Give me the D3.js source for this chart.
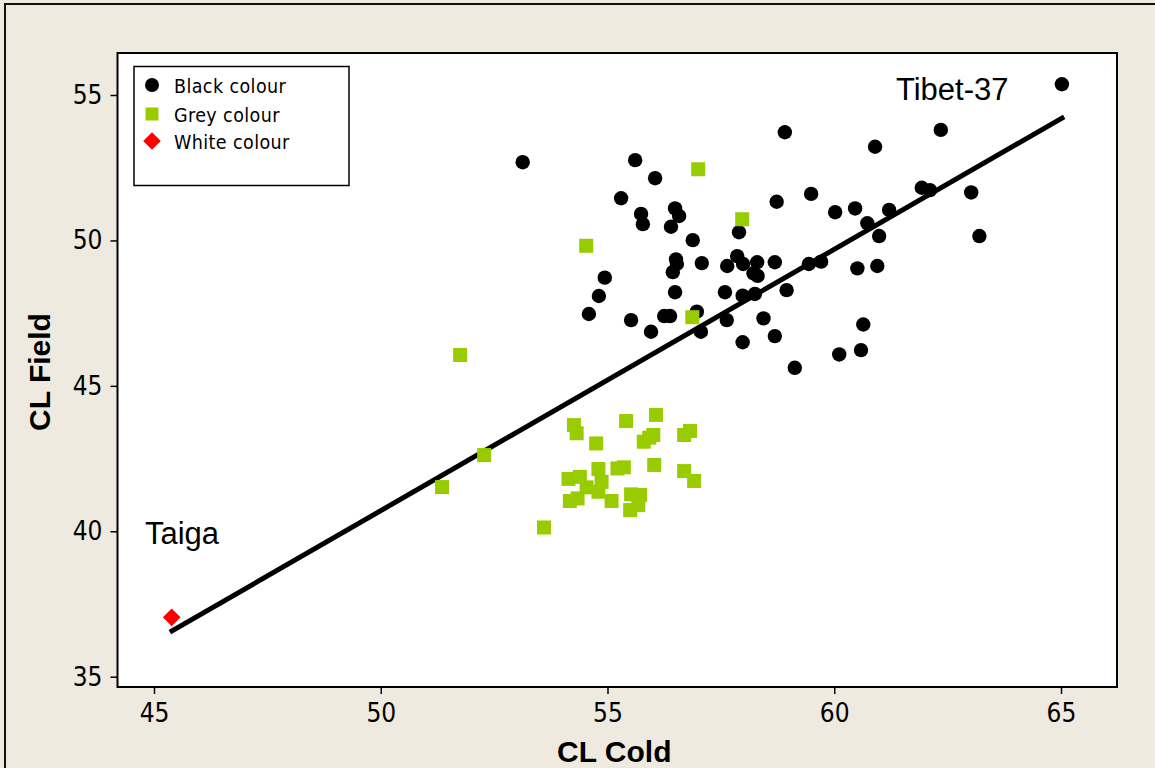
<!DOCTYPE html>
<html>
<head>
<meta charset="utf-8">
<script src="https://cdn.jsdelivr.net/npm/d3@7"></script>
<style>
  html, body { margin: 0; padding: 0; background: #EEEAE0; }
  svg { display: block; }
  .tick text { font-family: "DejaVu Sans Condensed", "DejaVu Sans", sans-serif; font-stretch: condensed; font-size: 26px; fill: #000; }
</style>
</head>
<body>
<svg id="chart" width="1155" height="768"></svg>
<script>
// CL Cold (x) vs CL Field (y) per accession, grouped by seed colour
const blackColour = [
  [65.02, 55.37], [53.13, 52.69], [55.61, 52.76], [56.05, 52.14], [55.30, 51.45],
  [55.74, 50.91], [55.78, 50.56], [56.49, 51.10], [56.58, 50.84], [56.40, 50.47],
  [56.88, 50.01], [58.91, 53.72], [58.73, 51.33], [57.90, 50.28], [56.51, 49.35],
  [56.53, 49.19], [56.44, 48.91], [57.08, 49.22], [57.64, 49.12], [57.86, 49.46],
  [57.99, 49.19], [58.30, 49.25], [58.69, 49.25], [59.44, 49.19], [59.71, 49.27],
  [58.22, 48.87], [58.31, 48.78], [54.94, 48.72], [54.81, 48.09], [54.59, 47.47],
  [55.52, 47.26], [55.96, 46.86], [56.25, 47.40], [56.38, 47.40], [56.49, 48.22],
  [56.97, 47.55], [57.06, 46.86], [57.59, 48.22], [57.98, 48.10], [58.25, 48.16],
  [58.95, 48.29], [57.63, 47.26], [58.44, 47.32], [58.69, 46.71], [57.98, 46.50],
  [59.13, 45.62], [60.90, 53.22], [62.35, 53.80], [59.49, 51.60], [60.02, 50.97],
  [60.46, 51.10], [61.21, 51.05], [60.73, 50.59], [60.99, 50.15], [61.93, 51.81],
  [62.11, 51.73], [63.02, 51.65], [63.20, 50.15], [60.51, 49.04], [60.95, 49.12],
  [60.64, 47.11], [60.59, 46.23], [60.11, 46.08]
];

const greyColour = [
  [57.00, 52.45], [57.97, 50.73], [54.53, 49.82], [51.75, 46.06], [56.87, 47.36],
  [52.28, 42.62], [51.35, 41.52], [53.60, 40.13],
  [54.26, 43.65], [54.32, 43.37], [55.41, 43.79], [56.07, 44.00], [54.75, 43.02],
  [56.01, 43.31], [55.92, 43.22], [55.80, 43.08], [56.69, 43.31], [56.82, 43.45],
  [54.14, 41.80], [54.39, 41.87], [54.80, 42.14], [54.87, 41.70], [54.54, 41.51],
  [54.80, 41.36], [54.17, 41.04], [54.34, 41.13], [55.09, 41.04], [55.22, 42.16],
  [55.36, 42.20], [56.03, 42.28], [56.69, 42.07], [56.91, 41.73], [55.52, 41.27],
  [55.72, 41.25], [55.50, 40.73], [55.68, 40.90]
];

const whiteColour = [[45.39, 37.04]];

// fitted regression line, evaluated at the smallest and largest CL Cold
const fitLine = [[45.35, 36.53], [65.07, 54.25]];

const xTicks = [45, 50, 55, 60, 65];
const yTicks = [35, 40, 45, 50, 55];

const seriesNames = ["Black colour", "Grey colour", "White colour"];
const pointLabels = [
  { text: "Tibet-37", x: 61.36, y: 54.83 },
  { text: "Taiga", x: 44.80, y: 39.55 }
];

const svg = d3.select("#chart");
const W = 1155, H = 768;
const plot = { left: 117.5, right: 1117, top: 53, bottom: 687 };

// outer frame
svg.append("rect").attr("x", 0).attr("y", 0).attr("width", W).attr("height", H).attr("fill", "#EEEAE0");
svg.append("rect").attr("x", 5).attr("y", 4).attr("width", W + 20).attr("height", H + 20)
  .attr("fill", "none").attr("stroke", "#111").attr("stroke-width", 2);

const x = d3.scaleLinear().domain([44.195, 66.235]).range([plot.left, plot.right]);
const y = d3.scaleLinear().domain([34.646, 56.444]).range([plot.bottom, plot.top]);

// plot area
svg.append("rect")
  .attr("x", plot.left).attr("y", plot.top)
  .attr("width", plot.right - plot.left).attr("height", plot.bottom - plot.top)
  .attr("fill", "#fff").attr("stroke", "#000").attr("stroke-width", 2);

// axes
const xAxis = svg.append("g").attr("transform", `translate(0,${plot.bottom})`)
  .call(d3.axisBottom(x).tickValues(xTicks).tickSize(7).tickSizeOuter(0).tickPadding(8));
const yAxis = svg.append("g").attr("transform", `translate(${plot.left},0)`)
  .call(d3.axisLeft(y).tickValues(yTicks).tickSize(7).tickSizeOuter(0).tickPadding(8));
[xAxis, yAxis].forEach(g => {
  g.select(".domain").remove();
  g.selectAll(".tick line").attr("stroke", "#000").attr("stroke-width", 1.5);
});
xAxis.selectAll(".tick text").attr("dy", "0.78em");

// axis titles
svg.append("text").attr("x", (plot.left + plot.right) / 2 - 3).attr("y", 762)
  .attr("text-anchor", "middle")
  .style("font-family", "'Liberation Sans', Arial, sans-serif").style("font-weight", "bold").style("font-size", "30px")
  .text("CL Cold");
svg.append("text").attr("transform", "translate(50,372) rotate(-90)")
  .attr("text-anchor", "middle")
  .style("font-family", "'Liberation Sans', Arial, sans-serif").style("font-weight", "bold").style("font-size", "30px")
  .text("CL Field");

const clip = svg.append("defs").append("clipPath").attr("id", "plotclip")
  .append("rect").attr("x", plot.left).attr("y", plot.top)
  .attr("width", plot.right - plot.left).attr("height", plot.bottom - plot.top);
const marks = svg.append("g").attr("clip-path", "url(#plotclip)");

const circleSym = d3.symbol().type(d3.symbolCircle).size(Math.PI * 7.2 * 7.2);
const squareSym = d3.symbol().type(d3.symbolSquare).size(14 * 14);
const diamondSym = d3.symbol().type(d3.symbolSquare).size(12.5 * 12.5);

marks.append("g").selectAll("path").data(blackColour).join("path")
  .attr("d", circleSym)
  .attr("transform", d => `translate(${x(d[0])},${y(d[1])})`)
  .attr("fill", "#000");

marks.append("path")
  .attr("d", d3.line().x(d => x(d[0])).y(d => y(d[1]))(fitLine))
  .attr("fill", "none").attr("stroke", "#000").attr("stroke-width", 5);

marks.append("g").selectAll("path").data(greyColour).join("path")
  .attr("d", squareSym)
  .attr("transform", d => `translate(${x(d[0])},${y(d[1])})`)
  .attr("fill", "#99CC00");

marks.append("g").selectAll("path").data(whiteColour).join("path")
  .attr("d", diamondSym)
  .attr("transform", d => `translate(${x(d[0])},${y(d[1])}) rotate(45)`)
  .attr("fill", "#FF0000");

// point labels
svg.selectAll("text.plabel").data(pointLabels).join("text")
  .attr("class", "plabel")
  .attr("x", d => x(d.x)).attr("y", d => y(d.y))
  .style("font-family", "'Liberation Sans', Arial, sans-serif").style("font-size", "31px")
  .text(d => d.text);

// legend
const legend = svg.append("g");
legend.append("rect").attr("x", 134).attr("y", 66.5).attr("width", 215).attr("height", 119)
  .attr("fill", "#fff").attr("stroke", "#000").attr("stroke-width", 1.5);
const legendSyms = [
  { d: d3.symbol().type(d3.symbolCircle).size(Math.PI * 7 * 7)(), fill: "#000", rot: 0 },
  { d: d3.symbol().type(d3.symbolSquare).size(13 * 13)(), fill: "#99CC00", rot: 0 },
  { d: d3.symbol().type(d3.symbolSquare).size(12.5 * 12.5)(), fill: "#FF0000", rot: 45 }
];
const rowY = [85, 114, 141];
seriesNames.forEach((name, i) => {
  legend.append("path").attr("d", legendSyms[i].d).attr("fill", legendSyms[i].fill)
    .attr("transform", `translate(152,${rowY[i]}) rotate(${legendSyms[i].rot})`);
  legend.append("text").attr("x", 174).attr("y", rowY[i] + 7.5)
    .style("font-family", "'DejaVu Sans Condensed', 'DejaVu Sans', sans-serif")
    .style("font-stretch", "condensed").style("font-size", "19.5px")
    .style("letter-spacing", "0.4px")
    .text(name);
});
</script>
</body>
</html>
